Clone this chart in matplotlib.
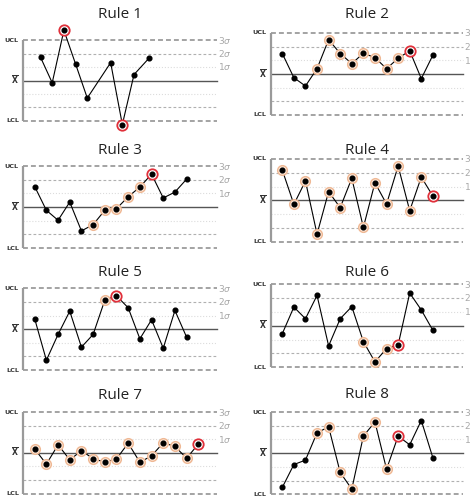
import matplotlib
matplotlib.use("Agg")
import matplotlib.pyplot as plt

W, H = 470, 497

# values in sigma units
rule1_x = [1.5, 2.5, 3.5, 4.5, 5.5, 7.5, 8.5, 9.5, 10.8]
rule1_y = [1.72, -0.17, 3.72, 1.22, -1.30, 1.32, -3.26, 0.44, 1.67]
rule1_warn = []
rule1_alarm = [2, 6]

rule2_y = [1.50, -0.27, -0.88, 0.39, 2.51, 1.50, 0.76, 1.52, 1.20, 0.39, 1.15, 1.70, -0.34, 1.38]
rule2_warn = [3, 4, 5, 6, 7, 8, 9, 10]
rule2_alarm = [11]

rule3_y = [1.50, -0.24, -0.97, 0.36, -1.75, -1.29, -0.24, -0.12, 0.75, 1.46, 2.40, 0.66, 1.09, 2.04]
rule3_warn = [5, 6, 7, 8, 9]
rule3_alarm = [10]

rule4_y = [2.20, -0.29, 1.40, -2.45, 0.63, -0.53, 1.60, -1.96, 1.28, -0.27, 2.49, -0.75, 1.69, 0.31]
rule4_warn = list(range(13))
rule4_alarm = [13]

rule5_y = [0.76, -2.28, -0.39, 1.32, -1.32, -0.39, 2.13, 2.45, 1.57, -0.71, 0.69, -1.40, 1.37, -0.59]
rule5_warn = [6]
rule5_alarm = [7]

rule6_y = [-0.58, 1.34, 0.50, 2.18, -1.46, 0.50, 1.37, -1.15, -2.61, -1.65, -1.39, 2.35, 1.13, -0.34]
rule6_warn = [7, 8, 9]
rule6_alarm = [10]

rule7_y = [0.29, -0.83, 0.59, -0.51, 0.15, -0.42, -0.69, -0.44, 0.71, -0.69, -0.22, 0.74, 0.47, -0.39, 0.64]
rule7_warn = list(range(14))
rule7_alarm = [14]

rule8_y = [-2.50, -0.83, -0.51, 1.48, 1.92, -1.41, -2.62, 1.24, 2.28, -1.17, 1.24, 0.61, 2.38, -0.34]
rule8_warn = [3, 4, 5, 6, 7, 8, 9]
rule8_alarm = [10]

titles = ["Rule 1", "Rule 2", "Rule 3", "Rule 4", "Rule 5", "Rule 6", "Rule 7", "Rule 8"]

# pixel layout: (left, right, ucl_y, lcl_y, title_y)
boxes = [
	(23, 217, 40, 121, 15),
	(270.7, 463, 33, 115, 14),
	(23, 217, 166, 248, 151),
	(270.7, 463, 159, 241.7, 150),
	(23, 217, 288.3, 370, 272.7),
	(270.7, 463, 284, 367.3, 272.7),
	(23, 217, 412, 493.7, 395.3),
	(270.7, 463, 412, 494.3, 395),
]

def xs(n):
	return list(range(1, n + 1))

series = [
	(rule1_x, rule1_y, rule1_warn, rule1_alarm),
	(xs(len(rule2_y)), rule2_y, rule2_warn, rule2_alarm),
	(xs(len(rule3_y)), rule3_y, rule3_warn, rule3_alarm),
	(xs(len(rule4_y)), rule4_y, rule4_warn, rule4_alarm),
	(xs(len(rule5_y)), rule5_y, rule5_warn, rule5_alarm),
	(xs(len(rule6_y)), rule6_y, rule6_warn, rule6_alarm),
	(xs(len(rule7_y)), rule7_y, rule7_warn, rule7_alarm),
	(xs(len(rule8_y)), rule8_y, rule8_warn, rule8_alarm),
]

XMAX = 16.6

def drawPanel(fig, box, title, data):
	left, right, top, bottom, ty = box
	ax = fig.add_axes([left / W, 1 - bottom / H, (right - left) / W, (bottom - top) / H])
	ax.set_xlim(0, XMAX)
	ax.set_ylim(-3, 3)
	ax.axis("off")

	# limit lines
	for v in (3, -3):
		ax.axhline(v, color="#8a8a8a", lw=1.1, dashes=(3.2, 2), clip_on=False)
	for v in (2, -2):
		ax.axhline(v, color="#b0b0b0", lw=0.8, dashes=(2.5, 2), clip_on=False)
	for v in (1, -1):
		ax.axhline(v, color="#dcdcdc", lw=0.8, ls=":", clip_on=False)
	ax.axhline(0, color="#555555", lw=1.0, clip_on=False)
	ax.plot([0, 0], [-3, 3], color="#9a9a9a", lw=1.6, clip_on=False, solid_capstyle="butt")

	for v, s in ((3, "3"), (2, "2"), (1, "1")):
		ax.text(XMAX + 0.1, v, s + r"$\sigma$", color="#a8a8a8", fontsize=6.5,
			va="center", ha="left", clip_on=False)
	ax.text(-0.35, 3, "UCL", fontsize=4.6, fontweight="bold", color="#333333",
		ha="right", va="center")
	ax.text(-0.35, 0, r"$\overline{\mathbf{X}}$", fontsize=5.5, color="#333333",
		ha="right", va="center")
	ax.text(-0.35, -3, "LCL", fontsize=4.6, fontweight="bold", color="#333333",
		ha="right", va="center")

	x, y, warn, alarm = data
	ax.plot(x, y, color="black", lw=0.8, clip_on=False, zorder=3)
	for i in warn:
		ax.plot(x[i], y[i], "o", ms=7, mfc="#fde6d6", mec="#efb894", mew=1.0,
			clip_on=False, zorder=4)
	for i in alarm:
		ax.plot(x[i], y[i], "o", ms=7.5, mfc="white", mec="#e0303a", mew=1.3,
			clip_on=False, zorder=4)
	ax.plot(x, y, "o", color="black", ms=3.4, clip_on=False, zorder=5)

	fig.text((left + right) / 2 / W, 1 - ty / H, title, fontsize=11, color="#222222",
		ha="center", va="center", family="Open Sans")

def main():
	fig = plt.figure(figsize=(W / 100, H / 100), dpi=100)
	for box, title, data in zip(boxes, titles, series):
		drawPanel(fig, box, title, data)
	fig.savefig("out.png", dpi=100)

main()
